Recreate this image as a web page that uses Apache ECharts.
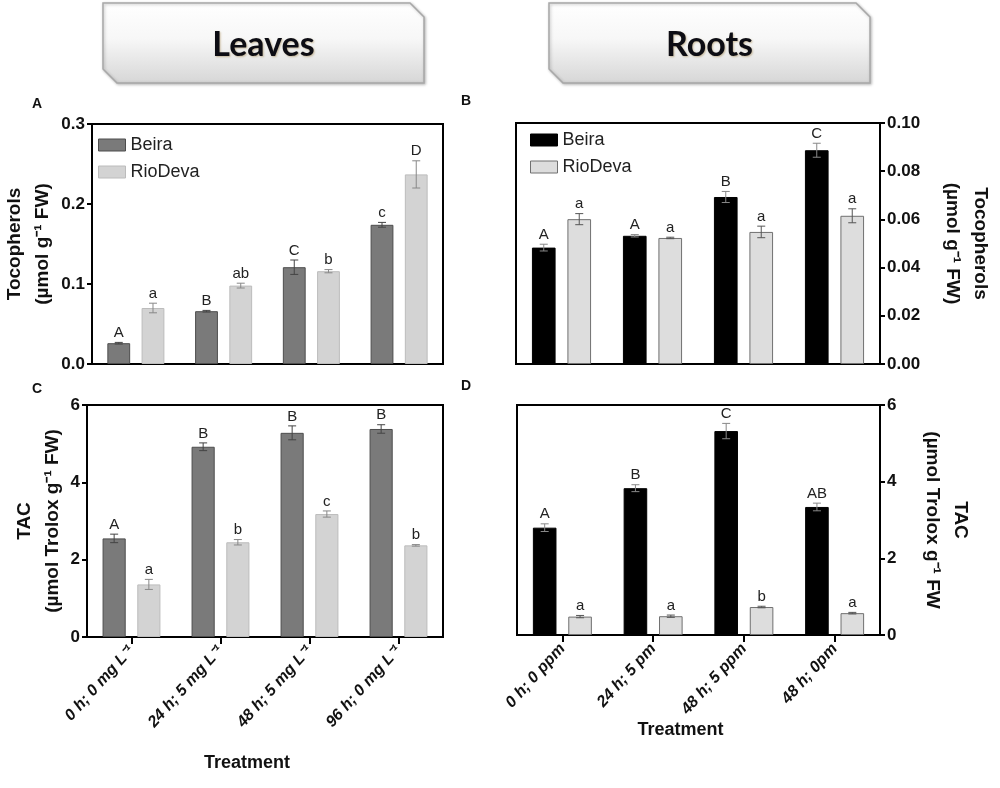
<!DOCTYPE html>
<html>
<head>
<meta charset="utf-8">
<script src="https://cdn.jsdelivr.net/npm/echarts@6/dist/echarts.min.js"></script>
<style>
    html, body { margin: 0; padding: 0; background: #fff; }
    #main { width: 1000px; height: 788px; }
</style>
</head>
<body>
<div id="main"></div>
<script type="text/javascript">
    // x categories
    const leafTreatments = ['0 h; 0 mg L⁻¹', '24 h; 5 mg L⁻¹', '48 h; 5 mg L⁻¹', '96 h; 0 mg L⁻¹'];
    const rootTreatments = ['0 h; 0 ppm', '24 h; 5 pm', '48 h; 5 ppm', '48 h; 0pm'];

    // A - leaves, tocopherols
    const leafTocoBeira = [0.026, 0.066, 0.121, 0.174];
    const leafTocoBeiraErr = [0.001, 0.001, 0.009, 0.003];
    const leafTocoBeiraSig = ['A', 'B', 'C', 'c'];
    const leafTocoRio = [0.070, 0.098, 0.116, 0.237];
    const leafTocoRioErr = [0.006, 0.003, 0.002, 0.017];
    const leafTocoRioSig = ['a', 'ab', 'b', 'D'];

    // B - roots, tocopherols
    const rootTocoBeira = [0.0483, 0.0532, 0.0693, 0.0887];
    const rootTocoBeiraErr = [0.0014, 0.0005, 0.0023, 0.0029];
    const rootTocoBeiraSig = ['A', 'A', 'B', 'C'];
    const rootTocoRio = [0.0601, 0.0523, 0.0548, 0.0615];
    const rootTocoRioErr = [0.0023, 0.0003, 0.0024, 0.0029];
    const rootTocoRioSig = ['a', 'a', 'a', 'a'];

    // C - leaves, TAC
    const leafTacBeira = [2.55, 4.92, 5.28, 5.38];
    const leafTacBeiraErr = [0.11, 0.10, 0.18, 0.11];
    const leafTacBeiraSig = ['A', 'B', 'B', 'B'];
    const leafTacRio = [1.36, 2.45, 3.18, 2.37];
    const leafTacRioErr = [0.13, 0.07, 0.08, 0.02];
    const leafTacRioSig = ['a', 'b', 'c', 'b'];

    // D - roots, TAC
    const rootTacBeira = [2.80, 3.83, 5.32, 3.34];
    const rootTacBeiraErr = [0.10, 0.09, 0.20, 0.10];
    const rootTacBeiraSig = ['A', 'B', 'C', 'AB'];
    const rootTacRio = [0.48, 0.49, 0.73, 0.57];
    const rootTacRioErr = [0.03, 0.03, 0.02, 0.02];
    const rootTacRioSig = ['a', 'a', 'b', 'a'];

    const FONT = 'Liberation Sans, Arial, sans-serif';
    const CAT_GAP = 0.35;

    const leafBeiraStyle = {color: '#7a7a7a', borderColor: '#4d4d4d', borderWidth: 1};
    const leafRioStyle = {color: '#d3d3d3', borderColor: '#bcbcbc', borderWidth: 1};
    const rootBeiraStyle = {color: '#000000', borderColor: '#000000', borderWidth: 1};
    const rootRioStyle = {color: '#dddddd', borderColor: '#707070', borderWidth: 1};

    function barSeries(name, idx, data, style) {
        return {
            name: name, type: 'bar', xAxisIndex: idx, yAxisIndex: idx,
            data: data, barGap: '50%', barCategoryGap: (CAT_GAP * 100) + '%',
            itemStyle: style, emphasis: {disabled: true}
        };
    }

    // error bars + letters, drawn over the bar of the given slot (0 = Beira, 1 = RioDeva)
    function errSeries(idx, values, errs, letters, slot, color) {
        return {
            type: 'custom', xAxisIndex: idx, yAxisIndex: idx, z: 10, silent: true,
            data: values.map(function (v, i) { return [i, v, errs[i]]; }),
            encode: {x: 0, y: 1},
            renderItem: function (params, api) {
                const i = api.value(0), v = api.value(1), e = api.value(2);
                const catW = api.size([1, 0])[0];
                const barW = catW * (1 - CAT_GAP) / 2.5;
                const x = api.coord([i, v])[0] + (slot === 0 ? -0.75 : 0.75) * barW;
                const hi = api.coord([i, v + e])[1];
                const lo = api.coord([i, v - e])[1];
                const cap = 4;
                const ls = {stroke: color, lineWidth: 1};
                return {
                    type: 'group', children: [
                        {type: 'line', shape: {x1: x, y1: hi, x2: x, y2: lo}, style: ls},
                        {type: 'line', shape: {x1: x - cap, y1: hi, x2: x + cap, y2: hi}, style: ls},
                        {type: 'line', shape: {x1: x - cap, y1: lo, x2: x + cap, y2: lo}, style: ls},
                        {type: 'text', x: x, y: hi - 2, style: {
                            text: letters[params.dataIndex], fill: '#222', font: '15px ' + FONT,
                            textAlign: 'center', textVerticalAlign: 'bottom'
                        }}
                    ]
                };
            }
        };
    }

    const grids = [
        {left: 87, right: 557, top: 124, bottom: 424},
        {left: 516, right: 120, top: 123, bottom: 424},
        {left: 87, right: 557, top: 405, bottom: 151},
        {left: 517, right: 120, top: 405, bottom: 153}
    ].map(function (g) {
        return Object.assign({show: true, borderColor: '#000', borderWidth: 2, backgroundColor: 'transparent'}, g);
    });

    const axisLine = {show: true, onZero: false, lineStyle: {color: '#000', width: 2}};
    const tickLabel = {color: '#111', fontFamily: FONT, fontWeight: 'bold', fontSize: 17};
    const nameStyle = {color: '#111', fontFamily: FONT, fontWeight: 'bold', fontSize: 19, lineHeight: 28};

    function xAxis(idx, cats, showLabels, treatGap) {
        const ax = {
            type: 'category', gridIndex: idx, data: cats, axisLine: axisLine,
            axisTick: {show: showLabels, alignWithLabel: true, length: 7, lineStyle: {width: 2, color: '#000'}},
            axisLabel: {show: showLabels, rotate: 48, margin: 11, color: '#111', fontFamily: FONT,
                fontWeight: 'bold', fontStyle: 'italic', fontSize: 16},
            splitLine: {show: false}
        };
        if (showLabels) {
            ax.name = 'Treatment';
            ax.nameLocation = 'middle';
            ax.nameGap = treatGap;
            ax.nameTextStyle = {color: '#111', fontFamily: FONT, fontWeight: 'bold', fontSize: 18,
                padding: [0, 36, 0, 0]};
        }
        return ax;
    }

    function yAxis(idx, pos, max, interval, digits, name, gap) {
        return {
            type: 'value', gridIndex: idx, position: pos, min: 0, max: max, interval: interval,
            axisLine: axisLine,
            axisTick: {show: true, length: 5, lineStyle: {width: 2, color: '#000'}},
            axisLabel: Object.assign({margin: 7, formatter: function (v) { return v.toFixed(digits); }}, tickLabel),
            splitLine: {show: false},
            name: name, nameLocation: 'middle', nameGap: gap,
            nameRotate: pos === 'left' ? 90 : -90,
            nameTextStyle: nameStyle
        };
    }

    function legend(left, top, s1, s2) {
        return {
            orient: 'vertical', left: left, top: top, icon: 'rect', padding: 0,
            itemWidth: 27, itemHeight: 12, itemGap: 9, selectedMode: false,
            textStyle: {fontFamily: FONT, fontSize: 18, color: '#222'},
            data: [{name: 'Beira', itemStyle: s1}, {name: 'RioDeva', itemStyle: s2}]
        };
    }

    function headerBox(x, label) {
        const w = 321, h = 80, c = 14, y = 3;
        return [
            {
                type: 'polygon', z: 1,
                shape: {points: [[x, y], [x + w - c, y], [x + w, y + c], [x + w, y + h], [x + c, y + h], [x, y + h - c]]},
                style: {
                    fill: new echarts.graphic.LinearGradient(0, 0, 0, 1, [
                        {offset: 0, color: '#ffffff'}, {offset: 0.45, color: '#f7f7f7'}, {offset: 1, color: '#d6d6d6'}
                    ]),
                    stroke: '#a8a8a8', lineWidth: 1.5,
                    shadowBlur: 3, shadowColor: 'rgba(0,0,0,0.25)', shadowOffsetX: 1, shadowOffsetY: 1
                }
            },
            {
                type: 'text', z: 2, x: x + w / 2, y: y + h / 2 + 2,
                style: {text: label, font: 'bold 34px Lato, "Open Sans", sans-serif', fill: '#0d0d14',
                    textAlign: 'center', textVerticalAlign: 'middle',
                    textShadowColor: 'rgba(120,80,0,0.35)', textShadowBlur: 2, textShadowOffsetX: 1, textShadowOffsetY: 1}
            }
        ];
    }

    function panelLetter(x, y, t) {
        return {type: 'text', x: x, y: y, style: {text: t, font: 'bold 14px ' + FONT, fill: '#111'}};
    }

    const chart = echarts.init(document.getElementById('main'));
    const option = {
        animation: false,
        backgroundColor: '#fff',
        grid: grids,
        legend: [
            legend(98, 136, leafBeiraStyle, leafRioStyle),
            legend(530, 131, rootBeiraStyle, rootRioStyle)
        ],
        xAxis: [
            xAxis(0, leafTreatments, false),
            xAxis(1, rootTreatments, false),
            xAxis(2, leafTreatments, true, 117),
            xAxis(3, rootTreatments, true, 84)
        ],
        yAxis: [
            yAxis(0, 'left', 0.3, 0.1, 1, 'Tocopherols\n(µmol g⁻¹ FW)', 35),
            yAxis(1, 'right', 0.10, 0.02, 2, 'Tocopherols\n(µmol g⁻¹ FW)', 58),
            yAxis(2, 'left', 6, 2, 0, 'TAC\n(µmol Trolox g⁻¹ FW)', 14),
            yAxis(3, 'right', 6, 2, 0, 'TAC\n(µmol Trolox g⁻¹ FW', 38)
        ],
        graphic: [].concat(
            headerBox(103, 'Leaves'),
            headerBox(549, 'Roots'),
            [panelLetter(32, 97, 'A'), panelLetter(461, 94, 'B'), panelLetter(32, 382, 'C'), panelLetter(461, 379, 'D')]
        ),
        series: [
            barSeries('Beira', 0, leafTocoBeira, leafBeiraStyle),
            barSeries('RioDeva', 0, leafTocoRio, leafRioStyle),
            errSeries(0, leafTocoBeira, leafTocoBeiraErr, leafTocoBeiraSig, 0, '#444'),
            errSeries(0, leafTocoRio, leafTocoRioErr, leafTocoRioSig, 1, '#888'),

            barSeries('Beira', 1, rootTocoBeira, rootBeiraStyle),
            barSeries('RioDeva', 1, rootTocoRio, rootRioStyle),
            errSeries(1, rootTocoBeira, rootTocoBeiraErr, rootTocoBeiraSig, 0, '#888'),
            errSeries(1, rootTocoRio, rootTocoRioErr, rootTocoRioSig, 1, '#555'),

            barSeries('Beira', 2, leafTacBeira, leafBeiraStyle),
            barSeries('RioDeva', 2, leafTacRio, leafRioStyle),
            errSeries(2, leafTacBeira, leafTacBeiraErr, leafTacBeiraSig, 0, '#444'),
            errSeries(2, leafTacRio, leafTacRioErr, leafTacRioSig, 1, '#888'),

            barSeries('Beira', 3, rootTacBeira, rootBeiraStyle),
            barSeries('RioDeva', 3, rootTacRio, rootRioStyle),
            errSeries(3, rootTacBeira, rootTacBeiraErr, rootTacBeiraSig, 0, '#888'),
            errSeries(3, rootTacRio, rootTacRioErr, rootTacRioSig, 1, '#555')
        ]
    };
    chart.setOption(option);
</script>
</body>
</html>
